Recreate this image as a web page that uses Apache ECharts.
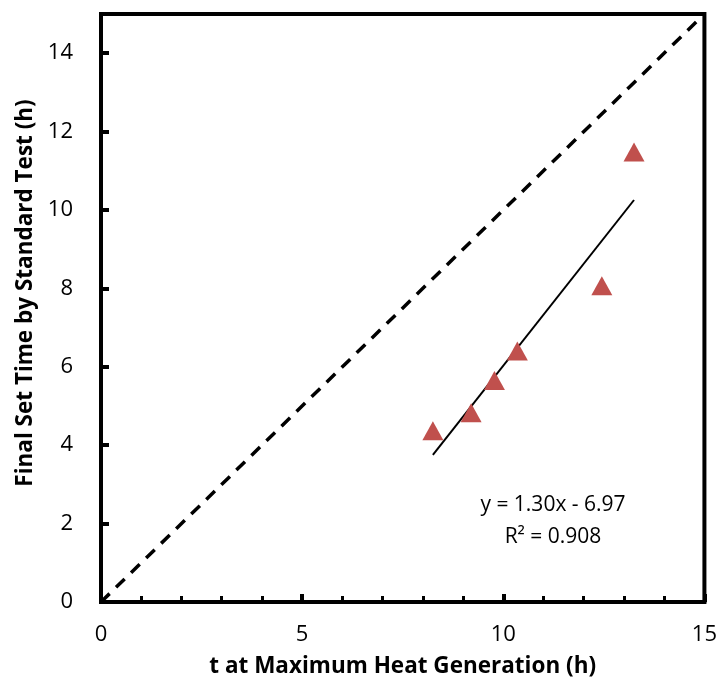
<!DOCTYPE html>
<html>
<head>
<meta charset="utf-8">
<script src="https://cdn.jsdelivr.net/npm/echarts@6/dist/echarts.min.js"></script>
<style>
  html, body { margin: 0; padding: 0; background: #fff; }
  #chart { width: 720px; height: 687px; }
</style>
</head>
<body>
<div id="chart"></div>
<script>
// measured points (t at max heat generation, final set time)
var tMaxHeat = [8.25, 9.2, 9.78, 10.35, 12.45, 13.25];
var finalSet = [4.37, 4.83, 5.65, 6.4, 8.07, 11.48];

// fitted trendline as printed on the chart
var trendSlope = 1.30;
var trendIntercept = -6.97;
var trendR2 = 0.908;

var axisMin = 0;
var axisMax = 15;

var fontFamily = "'Open Sans', 'Liberation Sans', sans-serif";

var chartDom = document.getElementById('chart');
var myChart = echarts.init(chartDom, null, { renderer: 'canvas' });

var points = tMaxHeat.map(function (x, i) { return [x, finalSet[i]]; });
var xLo = Math.min.apply(null, tMaxHeat);
var xHi = Math.max.apply(null, tMaxHeat);
var trendLine = [
    [xLo, trendSlope * xLo + trendIntercept],
    [xHi, trendSlope * xHi + trendIntercept]
];
var equalLine = [[axisMin, axisMin], [axisMax, axisMax]];

var option = {
    animation: false,
    grid: {
        left: 101,
        right: 14,
        top: 14,
        bottom: 85,
        show: true,
        borderColor: '#000',
        borderWidth: 4,
        backgroundColor: '#fff'
    },
    xAxis: {
        type: 'value',
        min: axisMin,
        max: axisMax,
        interval: 5,
        name: 't at Maximum Heat Generation (h)',
        nameLocation: 'middle',
        nameGap: 53,
        nameTextStyle: { fontFamily: fontFamily, fontSize: 22.5, fontWeight: 'bold', color: '#000' },
        axisLine: { show: true, onZero: false, lineStyle: { color: '#000', width: 4 } },
        axisTick: { show: true, inside: true, length: 8, lineStyle: { color: '#000', width: 4 } },
        minorTick: { show: true, splitNumber: 5, length: 6, lineStyle: { color: '#000', width: 3 } },
        axisLabel: { fontFamily: fontFamily, fontSize: 22, color: '#000', margin: 22 },
        splitLine: { show: false }
    },
    yAxis: {
        type: 'value',
        min: axisMin,
        max: axisMax,
        interval: 2,
        name: 'Final Set Time by Standard Test (h)',
        nameLocation: 'middle',
        nameGap: 62,
        nameTextStyle: {
            fontFamily: fontFamily, fontSize: 22.5, fontWeight: 'bold', color: '#000',
            padding: [0, 0, 0, 30]
        },
        axisLine: { show: true, onZero: false, lineStyle: { color: '#000', width: 4 } },
        axisTick: { show: true, inside: true, length: 8, lineStyle: { color: '#000', width: 4 } },
        axisLabel: { fontFamily: fontFamily, fontSize: 22, color: '#000', margin: 28, showMaxLabel: false },
        splitLine: { show: false }
    },
    series: [
        {
            type: 'line',
            data: equalLine,
            symbol: 'none',
            lineStyle: { color: '#000', width: 3.5, type: [12, 9] },
            z: 2
        },
        {
            type: 'line',
            data: trendLine,
            symbol: 'none',
            lineStyle: { color: '#000', width: 2 },
            z: 3
        },
        {
            type: 'scatter',
            data: points,
            symbol: 'triangle',
            symbolSize: [21, 19],
            itemStyle: { color: '#C0504D', opacity: 1 },
            z: 4
        }
    ],
    graphic: [
        {
            type: 'text',
            x: 553,
            y: 505,
            style: {
                text: 'y = ' + trendSlope.toFixed(2) + 'x - ' + Math.abs(trendIntercept).toFixed(2),
                font: '21px ' + fontFamily,
                fill: '#000',
                align: 'center',
                verticalAlign: 'middle'
            }
        },
        {
            type: 'text',
            x: 553,
            y: 537,
            style: {
                text: 'R² = ' + trendR2.toFixed(3),
                font: '21px ' + fontFamily,
                fill: '#000',
                align: 'center',
                verticalAlign: 'middle'
            }
        }
    ]
};

myChart.setOption(option);
</script>
</body>
</html>
